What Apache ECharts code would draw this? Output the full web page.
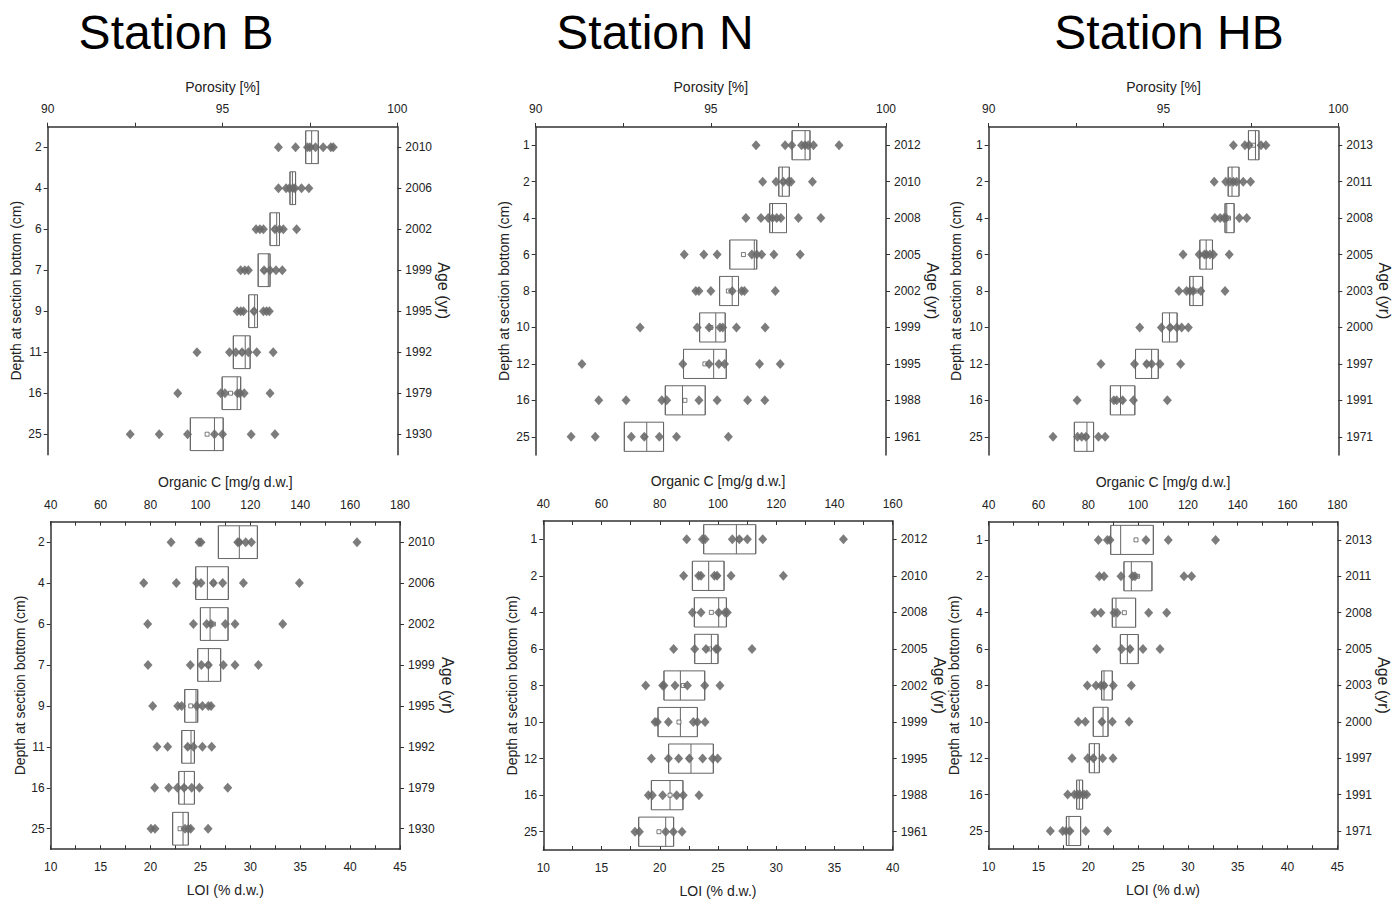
<!DOCTYPE html>
<html>
<head>
<meta charset="utf-8">
<script src="https://cdn.jsdelivr.net/npm/echarts@6/dist/echarts.min.js"></script>
<style>html,body{margin:0;padding:0;background:#fff}#c{width:1398px;height:907px}</style>
</head>
<body>
<div id="c"></div>
<script>
// ---------- categories ----------
const B_depth = ['2','4','6','7','9','11','16','25'];
const B_age = ['2010','2006','2002','1999','1995','1992','1979','1930'];
const N_depth = ['1','2','4','6','8','10','12','16','25'];
const N_age = ['2012','2010','2008','2005','2002','1999','1995','1988','1961'];
const HB_depth = ['1','2','4','6','8','10','12','16','25'];
const HB_age = ['2013','2011','2008','2005','2003','2000','1997','1991','1971'];

// ---------- porosity (%) ----------
const B_por = [
  [96.60,97.09,97.43,97.50,97.66,97.88,98.10,98.17],
  [96.60,96.82,96.91,97.01,97.07,97.26,97.47],
  [95.96,96.07,96.17,96.50,96.63,96.74,97.12],
  [95.52,95.64,95.74,96.19,96.36,96.53,96.71],
  [95.42,95.52,95.60,95.90,96.17,96.26,96.34],
  [94.27,95.20,95.38,95.56,95.74,95.98,96.45],
  [93.72,94.95,95.07,95.43,95.50,95.62,96.36],
  [92.36,93.19,94.00,94.77,95.00,95.82,96.50]
];
const B_por_box = [[97.38,97.55,97.74],[96.93,97.00,97.09],[96.36,96.55,96.63],[96.02,96.31,96.36],[95.75,95.92,96.00],[95.31,95.65,95.79],[94.99,95.42,95.52],[94.08,94.77,95.02]];
const B_por_mean = [97.55,97.00,96.50,96.19,95.90,95.56,95.23,94.56];

const N_por = [
  [96.29,97.12,97.31,97.59,97.69,97.78,97.93,98.66],
  [96.48,96.86,97.07,97.21,97.29,97.90],
  [96.00,96.43,96.64,96.76,96.88,97.00,97.50,98.14],
  [94.24,94.80,95.18,96.17,96.31,96.45,96.80,97.55],
  [94.57,94.66,95.00,95.61,95.88,95.96,96.84],
  [92.98,94.61,94.95,95.26,95.34,95.73,96.55],
  [91.32,94.20,94.95,95.23,95.39,96.39,96.98],
  [91.80,92.58,93.60,93.74,94.66,95.18,96.05,96.54],
  [91.01,91.70,92.73,93.10,93.53,94.02,95.50]
];
const N_por_box = [[97.32,97.69,97.83],[96.94,97.04,97.24],[96.68,96.76,97.16],[95.54,96.24,96.31],[95.25,95.61,95.79],[94.68,95.14,95.41],[94.22,95.08,95.44],[93.70,94.19,94.84],[92.53,93.17,93.65]];
const N_por_mean = [97.69,97.07,96.90,95.93,95.50,95.00,94.83,94.26,93.10];

const HB_por = [
  [97.00,97.33,97.45,97.79,97.93],
  [96.45,96.78,96.90,97.00,97.09,97.28,97.49],
  [96.47,96.62,96.73,96.79,97.17,97.38],
  [95.56,96.02,96.17,96.23,96.33,96.43,96.88],
  [95.44,95.66,95.76,95.85,96.07,96.76],
  [94.32,94.94,95.19,95.38,95.52,95.71],
  [93.21,94.17,94.52,94.66,94.90,95.49],
  [92.53,93.58,93.66,93.83,94.14,95.11],
  [91.84,92.54,92.66,92.78,93.14,93.33]
];
const HB_por_box = [[97.43,97.63,97.73],[96.85,96.96,97.16],[96.76,96.81,97.02],[96.04,96.22,96.40],[95.75,95.85,96.12],[94.97,95.17,95.39],[94.20,94.66,94.85],[93.48,93.77,94.18],[92.45,92.81,93.00]];
const HB_por_mean = [97.57,97.00,96.86,96.23,95.95,95.19,94.52,93.80,92.80];

// ---------- LOI (% d.w.) ----------
const B_loi = [
  [22.06,24.86,25.06,28.74,28.90,29.54,30.11,40.69],
  [19.32,22.59,24.63,25.06,26.30,27.23,29.31,34.92],
  [19.72,24.30,25.63,26.07,27.50,28.47,33.25],
  [19.75,23.99,25.10,25.80,27.30,28.47,30.81],
  [20.22,22.73,23.13,24.63,25.20,25.80,26.07],
  [20.65,21.72,23.73,24.30,25.20,26.13],
  [20.42,21.82,22.69,23.36,24.13,24.90,27.74],
  [20.05,20.45,23.46,23.79,24.03,25.77]
];
const B_loi_box = [[26.80,28.90,30.71],[24.53,25.70,27.80],[25.00,25.97,27.77],[24.73,25.80,27.03],[23.43,24.56,24.73],[23.13,24.06,24.40],[22.83,23.39,24.40],[22.22,23.26,23.79]];
const B_loi_mean = [28.90,26.30,26.30,25.80,24.03,23.73,23.40,22.96];

const N_loi = [
  [22.31,23.66,23.89,26.23,26.83,27.52,28.84,35.77],
  [22.05,23.34,23.54,24.69,24.92,26.12,30.61],
  [22.80,23.54,25.06,25.60,25.80],
  [21.19,23.00,23.97,24.83,24.97,27.92],
  [18.79,20.25,20.36,21.31,22.37,23.86,25.17],
  [19.59,19.79,20.74,22.88,23.23,23.89],
  [19.28,20.74,21.62,22.54,23.68,24.54,24.97],
  [19.02,19.36,20.25,21.45,22.02,23.37],
  [17.87,18.25,20.51,21.17,21.91]
];
const N_loi_box = [[23.77,26.58,28.24],[22.80,24.20,25.52],[22.97,25.06,25.72],[23.00,24.43,25.00],[20.36,21.77,23.86],[19.85,21.77,23.23],[20.76,22.68,24.60],[19.28,20.88,21.99],[18.19,20.51,21.19]];
const N_loi_mean = [26.83,24.92,24.43,24.26,22.02,21.65,22.54,20.88,19.93];

const HB_loi = [
  [21.01,21.91,22.18,25.79,28.03,32.78],
  [21.11,21.58,23.28,24.45,24.69,29.61,30.37],
  [20.64,21.27,22.58,22.91,26.06,27.87],
  [20.84,23.35,24.19,25.49,27.20],
  [19.90,20.77,21.27,21.58,22.51,24.32],
  [19.00,19.70,21.37,22.41,24.09],
  [18.36,19.94,20.50,21.44,22.48],
  [17.93,18.60,18.93,19.17,19.57,19.84],
  [16.19,17.43,17.76,18.16,19.74,21.94]
];
const HB_loi_box = [[22.25,23.25,26.53],[23.58,24.32,26.39],[22.41,22.78,24.75],[23.22,23.92,25.02],[21.34,21.58,22.41],[20.50,21.48,21.98],[20.10,20.61,21.11],[18.83,19.10,19.43],[17.80,18.06,19.23]];
const HB_loi_mean = [24.79,24.95,23.62,24.19,21.60,21.37,20.55,19.20,18.10];

// ---------- build ----------
const FONT = 'Liberation Sans';
const AX = '#333';
const grids = [], xAxes = [], yAxes = [], series = [];

function labelFmt(step) {
  return v => (Math.abs(v / step - Math.round(v / step)) < 1e-6 ? String(v) : '');
}

function valueAxis(gi, pos, min, max, interval, step, name, gap, inside, margin) {
  return {
    type: 'value', gridIndex: gi, position: pos, min: min, max: max, interval: interval,
    name: name, nameLocation: 'middle', nameGap: gap,
    nameTextStyle: {fontSize: 14, fontFamily: FONT, color: '#222'},
    axisLine: {show: true, onZero: false, lineStyle: {color: AX, width: 1.5}},
    axisTick: {show: true, inside: inside, length: 4, lineStyle: {color: AX, width: 1}},
    axisLabel: {margin: margin, fontSize: 12, fontFamily: FONT, color: '#222', formatter: labelFmt(step)},
    splitLine: {show: false}
  };
}

function addPanel(p) {
  const gi = grids.length;
  grids.push({left: p.left, top: p.top, width: p.width, height: p.height});
  const topIdx = xAxes.length;
  xAxes.push(valueAxis(gi, 'top', p.tMin, p.tMax, p.tInt, p.tStep, p.tName, 33, p.tInside, p.tMargin));
  let dataX = topIdx;
  if (p.bName) {
    dataX = xAxes.length;
    xAxes.push(valueAxis(gi, 'bottom', p.bMin, p.bMax, p.bInt, p.bStep, p.bName, 34, true, 12));
  }
  const leftIdx = yAxes.length;
  yAxes.push({
    type: 'category', gridIndex: gi, position: 'left', data: p.depth, inverse: true,
    name: 'Depth at section bottom (cm)', nameLocation: 'middle', nameGap: p.lGap, nameRotate: 90,
    nameTextStyle: {fontSize: 14, fontFamily: FONT, color: '#222'},
    axisLine: {show: true, lineStyle: {color: AX, width: 1.5}},
    axisTick: {show: true, alignWithLabel: true, length: 4, lineStyle: {color: AX}},
    axisLabel: {margin: 6, fontSize: 12, fontFamily: FONT, color: '#222'},
    splitLine: {show: false}
  });
  yAxes.push({
    type: 'category', gridIndex: gi, position: 'right', data: p.age, inverse: true,
    name: 'Age (yr)', nameLocation: 'middle', nameGap: p.rGap, nameRotate: -90,
    nameTextStyle: {fontSize: 16, fontFamily: FONT, color: '#222'},
    axisLine: {show: true, lineStyle: {color: AX, width: 1.5}},
    axisTick: {show: true, alignWithLabel: true, length: 4, lineStyle: {color: AX}},
    axisLabel: {margin: 8, fontSize: 12, fontFamily: FONT, color: '#222'},
    splitLine: {show: false}
  });
  series.push({
    type: 'boxplot', xAxisIndex: dataX, yAxisIndex: leftIdx,
    boxWidth: ['80%', '80%'],
    itemStyle: {color: 'rgba(255,255,255,0)', borderColor: '#666', borderWidth: 1},
    emphasis: {disabled: true},
    data: p.box.map(b => [b[0], b[0], b[1], b[2], b[2]]),
    z: 2
  });
  series.push({
    type: 'scatter', xAxisIndex: dataX, yAxisIndex: leftIdx,
    symbol: 'rect', symbolSize: 4,
    itemStyle: {color: '#fff', borderColor: '#333', borderWidth: 0.8},
    data: p.mean.map((v, i) => [v, i]), z: 3
  });
  const pts = [];
  p.samples.forEach((row, i) => row.forEach(v => pts.push([v, i])));
  series.push({
    type: 'scatter', xAxisIndex: dataX, yAxisIndex: leftIdx,
    symbol: 'diamond', symbolSize: [9, 10],
    itemStyle: {color: '#6a6a6a', opacity: 0.88},
    data: pts, z: 4
  });
}

const porTop = {tMin: 90, tMax: 100, tInt: 2.5, tStep: 5, tName: 'Porosity [%]', tInside: false, tMargin: 12};
addPanel(Object.assign({left: 47.7, top: 126.7, width: 349.6, height: 328, depth: B_depth, age: B_age,
  samples: B_por, box: B_por_box, mean: B_por_mean, lGap: 25, rGap: 38}, porTop));
addPanel(Object.assign({left: 535.7, top: 127, width: 350.3, height: 328, depth: N_depth, age: N_age,
  samples: N_por, box: N_por_box, mean: N_por_mean, lGap: 25, rGap: 36}, porTop));
addPanel(Object.assign({left: 988.7, top: 127, width: 349.6, height: 328, depth: HB_depth, age: HB_age,
  samples: HB_por, box: HB_por_box, mean: HB_por_mean, lGap: 26, rGap: 34}, porTop));

addPanel({left: 50.7, top: 521.7, width: 349.3, height: 327.5, depth: B_depth, age: B_age,
  samples: B_loi, box: B_loi_box, mean: B_loi_mean, lGap: 24, rGap: 39,
  tMin: 40, tMax: 180, tInt: 10, tStep: 20, tName: 'Organic C [mg/g d.w.]', tInside: true, tMargin: 11,
  bMin: 10, bMax: 45, bInt: 2.5, bStep: 5, bName: 'LOI (% d.w.)'});
addPanel({left: 543.3, top: 521, width: 349.4, height: 329, depth: N_depth, age: N_age,
  samples: N_loi, box: N_loi_box, mean: N_loi_mean, lGap: 24, rGap: 36,
  tMin: 40, tMax: 160, tInt: 10, tStep: 20, tName: 'Organic C [mg/g d.w.]', tInside: true, tMargin: 11,
  bMin: 10, bMax: 40, bInt: 2.5, bStep: 5, bName: 'LOI (% d.w.)'});
addPanel({left: 988.7, top: 521.7, width: 348.6, height: 327.5, depth: HB_depth, age: HB_age,
  samples: HB_loi, box: HB_loi_box, mean: HB_loi_mean, lGap: 28, rGap: 35,
  tMin: 40, tMax: 180, tInt: 10, tStep: 20, tName: 'Organic C [mg/g d.w.]', tInside: true, tMargin: 11,
  bMin: 10, bMax: 45, bInt: 2.5, bStep: 5, bName: 'LOI (% d.w)'});

const titles = ['Station B', 'Station N', 'Station HB'];
const titleX = [171, 650, 1164];

const chart = echarts.init(document.getElementById('c'), null, {renderer: 'svg'});
chart.setOption({
  animation: false,
  backgroundColor: '#fff',
  title: titles.map((t, i) => ({
    text: t, left: titleX[i], top: 3, textAlign: 'center',
    textStyle: {fontSize: 48, fontWeight: 'normal', fontFamily: FONT, color: '#000'}
  })),
  grid: grids,
  xAxis: xAxes,
  yAxis: yAxes,
  series: series
});
</script>
</body>
</html>
